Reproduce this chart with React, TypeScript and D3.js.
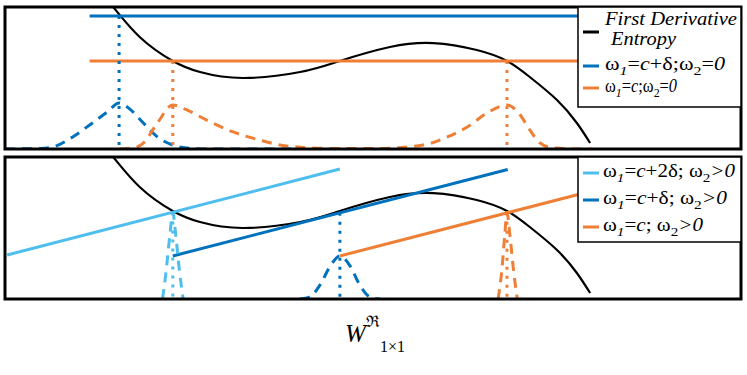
import React from 'react';
import * as d3 from 'd3';

type Pt = [number, number];
type Part = [string, string]; // text, style: n | i | sub | subi

// first derivative of the entropy (same curve in both panels)
const entropyCurve: Pt[] = [
  [12.5, 112], [14.7, 100], [18.3, 78.9], [22.8, 62.0], [26.5, 54.2], [32.3, 50.0],
  [40.1, 54.2], [45.5, 62.0], [52.3, 71.8], [58.2, 74.6], [64.1, 69.7], [68.2, 62.0],
  [71.3, 50.7], [75.0, 34.5], [77.7, 18.3], [79.5, 4.2],
];

// top panel: omega_2 = 0
const topLevels = [93.7, 62.0]; // blue, orange
const topLineStart = 11.5;
const topBlueCross = [15.5];
const topOrangeCross = [22.8, 68.2];
const topBlueDensity: Pt[] = [
  [0, 0], [4.8, 0.4], [6.5, 1.4], [9.2, 8.5], [11.5, 16.9], [13.9, 26.1], [15.5, 32.4],
  [16.6, 29.6], [18.8, 18.3], [20.7, 8.5], [22.8, 2.8], [24.7, 0.7], [27.2, 0], [40, 0],
];
const topOrangeDensity: Pt[] = [
  [15.6, 0], [17.4, 0.7], [18.8, 4.2], [20.7, 18.3], [22.8, 31.0], [24.7, 27.5],
  [27.4, 20.4], [31.0, 12.0], [34.6, 6.3], [38.3, 2.1], [44.2, 0.4], [50.9, 0.4],
  [56.8, 2.8], [60.1, 8.5], [62.8, 15.5], [65.5, 25.4], [68.2, 31.0], [70.0, 23.9],
  [71.3, 13.4], [72.7, 4.2], [74.5, 0.7], [78.1, 0], [79.8, 0],
];

// bottom panel: omega_2 > 0
const lightBlueLine: Pt[] = [[0.3, 31.0], [45.5, 91.5]];
const darkBlueLine: Pt[] = [[22.8, 30.3], [68.3, 91.2]];
const orangeLine: Pt[] = [[45.5, 30.3], [95, 96.5]];
const lightBlueDensity: Pt[] = [[21.4, 0], [21.9, 20], [22.4, 45], [22.8, 61], [23.2, 45], [23.7, 20], [24.2, 0]];
const darkBlueDensity: Pt[] = [
  [40.1, 0], [41.4, 1.4], [42.8, 9.9], [44.2, 23.2], [45.5, 30.3], [46.9, 23.2],
  [48.2, 9.9], [49.6, 1.4], [50.9, 0],
];
const orangeDensity: Pt[] = [[67.0, 0], [67.5, 20], [67.9, 45], [68.2, 61], [68.6, 45], [69.1, 20], [69.6, 0]];
const bottomCross: Pt[] = [[22.8, 61.0], [45.5, 60.7], [68.2, 60.7]];

const blue = '#0072BD';
const lightBlue = '#4DBEEE';
const orange = '#EF7F35';

const topLegend: { parts: Part[], color: string }[] = [
  { parts: [['ω', 'n'], ['1', 'subi'], ['=', 'n'], ['c', 'i'], ['+δ;ω', 'n'], ['2', 'sub'], ['=', 'n'], ['0', 'i']], color: blue },
  { parts: [['ω', 'n'], ['1', 'subi'], ['=', 'n'], ['c', 'i'], [';ω', 'n'], ['2', 'sub'], ['=', 'n'], ['0', 'i']], color: orange },
];
const bottomLegend: { parts: Part[], color: string }[] = [
  { parts: [['ω', 'n'], ['1', 'subi'], ['=', 'n'], ['c', 'i'], ['+2δ; ω', 'n'], ['2', 'sub'], ['>0', 'i']], color: lightBlue },
  { parts: [['ω', 'n'], ['1', 'subi'], ['=', 'n'], ['c', 'i'], ['+δ; ω', 'n'], ['2', 'sub'], ['>0', 'i']], color: blue },
  { parts: [['ω', 'n'], ['1', 'subi'], ['=', 'n'], ['c', 'i'], ['; ω', 'n'], ['2', 'sub'], ['>0', 'i']], color: orange },
];

const FONT = 'Liberation Serif';

const x = d3.scaleLinear().domain([0, 100]).range([5, 741]);
const yTop = d3.scaleLinear().domain([0, 100]).range([149, 7]);
const yBot = d3.scaleLinear().domain([0, 100]).range([299, 157]);

function Path({ data, y, color, width = 3, dash, curve = d3.curveLinear }: any) {
  const gen = d3.line<Pt>().x(d => x(d[0])).y(d => y(d[1])).curve(curve);
  return <path d={gen(data) || ''} fill="none" stroke={color} strokeWidth={width} strokeDasharray={dash} />;
}

function MathText({ x0, y0, parts, width }: { x0: number, y0: number, parts: Part[], width: number }) {
  let shift = 0;
  return (
    <text x={x0} y={y0} fontSize={18} textLength={width} lengthAdjust="spacingAndGlyphs" style={{ fontFamily: FONT }}>
      {parts.map(([s, st], i) => {
        const sub = st === 'sub' || st === 'subi';
        const target = sub ? 5 : 0;
        const dy = target - shift;
        shift = target;
        return (
          <tspan key={i} dy={dy} fontSize={sub ? 13 : 18}
            fontStyle={st === 'i' || st === 'subi' ? 'italic' : 'normal'}>{s}</tspan>
        );
      })}
    </text>
  );
}

function Frame({ y }: any) {
  return <rect x={x(0)} y={y(100)} width={x(100) - x(0)} height={y(0) - y(100)} fill="none" stroke="#000" strokeWidth={3} />;
}

function App() {
  const dotted = '3,6';
  const dashed = '10,7';
  const topRows = [66, 88];
  const topWidths = [120, 72];
  const botRows = [173, 200, 227];
  const botWidths = [132, 124, 100];
  return (
    <div style={{ position: 'absolute', left: 0, top: 0 }}>
      <svg width={747} height={375} style={{ display: 'block', fontFamily: FONT }}>
        <defs>
          <clipPath id="clipTop">
            <rect x={x(0)} y={yTop(100)} width={x(100) - x(0)} height={yTop(0) - yTop(100)} />
          </clipPath>
          <clipPath id="clipBot">
            <rect x={x(0)} y={yBot(100)} width={x(100) - x(0)} height={yBot(0) - yBot(100)} />
          </clipPath>
        </defs>

        {/* top panel */}
        <g clipPath="url(#clipTop)">
          <Path data={entropyCurve} y={yTop} color="#000" width={2.2} curve={d3.curveNatural} />
          <Path data={[[topLineStart, topLevels[0]], [100, topLevels[0]]]} y={yTop} color={blue} />
          <Path data={[[topLineStart, topLevels[1]], [100, topLevels[1]]]} y={yTop} color={orange} />
          <Path data={topBlueDensity} y={yTop} color={blue} dash={dashed} curve={d3.curveMonotoneX} />
          <Path data={topOrangeDensity} y={yTop} color={orange} dash={dashed} curve={d3.curveMonotoneX} />
          {topBlueCross.map((c, i) => (
            <Path key={'b' + i} data={[[c, topLevels[0]], [c, 0]]} y={yTop} color={blue} dash={dotted} />
          ))}
          {topOrangeCross.map((c, i) => (
            <Path key={'o' + i} data={[[c, topLevels[1]], [c, 0]]} y={yTop} color={orange} dash={dotted} />
          ))}
        </g>

        {/* bottom panel */}
        <g clipPath="url(#clipBot)">
          <Path data={entropyCurve} y={yBot} color="#000" width={2.2} curve={d3.curveNatural} />
          <Path data={lightBlueLine} y={yBot} color={lightBlue} />
          <Path data={darkBlueLine} y={yBot} color={blue} />
          <Path data={orangeLine} y={yBot} color={orange} />
          <Path data={lightBlueDensity} y={yBot} color={lightBlue} dash={dashed} curve={d3.curveMonotoneX} />
          <Path data={darkBlueDensity} y={yBot} color={blue} dash={dashed} curve={d3.curveMonotoneX} />
          <Path data={orangeDensity} y={yBot} color={orange} dash={dashed} curve={d3.curveMonotoneX} />
          {[lightBlue, blue, orange].map((col, i) => (
            <Path key={i} data={[bottomCross[i], [bottomCross[i][0], 0]]} y={yBot} color={col} dash={dotted} />
          ))}
        </g>

        <Frame y={yTop} />
        <Frame y={yBot} />

        {/* top legend */}
        <rect x={578} y={7} width={163} height={100} fill="#fff" stroke="#000" strokeWidth={1.5} />
        <line x1={583} x2={599} y1={32} y2={32} stroke="#000" strokeWidth={3} />
        <text x={605} y={25} fontSize={18} fontStyle="italic" textLength={132} lengthAdjust="spacingAndGlyphs"
          style={{ fontFamily: FONT }}>First Derivative</text>
        <text x={611} y={45} fontSize={18} fontStyle="italic" textLength={65} lengthAdjust="spacingAndGlyphs"
          style={{ fontFamily: FONT }}>Entropy</text>
        {topLegend.map((e, i) => (
          <g key={i}>
            <line x1={583} x2={599} y1={topRows[i]} y2={topRows[i]} stroke={e.color} strokeWidth={3} />
            <MathText x0={605} y0={topRows[i] + 4} parts={e.parts} width={topWidths[i]} />
          </g>
        ))}

        {/* bottom legend */}
        <rect x={578} y={157} width={163} height={85} fill="#fff" stroke="#000" strokeWidth={1.5} />
        {bottomLegend.map((e, i) => (
          <g key={i}>
            <line x1={583} x2={599} y1={botRows[i]} y2={botRows[i]} stroke={e.color} strokeWidth={3} />
            <MathText x0={603} y0={botRows[i] + 4} parts={e.parts} width={botWidths[i]} />
          </g>
        ))}

        {/* x label */}
        <text x={345} y={342} style={{ fontFamily: FONT }}>
          <tspan fontSize={25} fontStyle="italic">W</tspan>
          <tspan fontSize={16} dy={-15}>ℜ</tspan>
        </text>
        <text x={380} y={352} fontSize={16} style={{ fontFamily: FONT }}>1×1</text>
      </svg>
    </div>
  );
}

export default App
